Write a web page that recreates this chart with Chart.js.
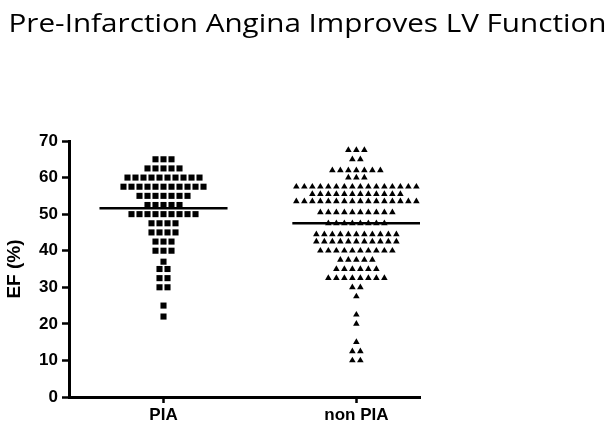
<!DOCTYPE html>
<html>
<head>
<meta charset="utf-8">
<script src="https://cdn.jsdelivr.net/npm/chart.js@4.4.1/dist/chart.umd.min.js"></script>
<style>
    html, body { margin: 0; padding: 0; background: #fff; }
    #wrap { width: 615px; height: 427px; }
</style>
</head>
<body>
<div id="wrap"><canvas id="myChart" width="615" height="427"></canvas></div>
<script>
// groups on the x axis
const groups = ['PIA', 'non PIA'];

// EF rows: row value and number of dots on that row
const piaValues = [65, 62.5, 60, 57.5, 55, 52.5, 50, 47.5, 45, 42.5, 40, 37, 35, 32.5, 30, 25, 22];
const piaCounts = [3, 5, 10, 11, 7, 5, 9, 4, 4, 3, 3, 1, 2, 2, 2, 1, 1];

const nonPiaValues = [67.5, 65, 62, 60, 57.5, 55.5, 53.5, 50.5, 47.5, 44.5, 42.5, 40, 37.5, 35, 32.5, 30, 27.5, 22.5, 20, 15, 12.5, 10];
const nonPiaCounts = [3, 2, 7, 3, 16, 12, 16, 10, 8, 11, 11, 10, 5, 6, 8, 2, 1, 1, 1, 1, 2, 2];

// horizontal lines (group means)
const groupMeans = [51.6, 47.5];

const yTicks = [0, 10, 20, 30, 40, 50, 60, 70];

const titleText = 'Pre-Infarction Angina Improves LV Function';

const dotStep = 0.0415;   // spacing between dots in one row, x units
const meanHalf = 0.332;   // half width of the mean line, x units

// lay the dots of each row side by side, centred on the group
function spread(center, values, counts) {
    let pts = [];
    values.forEach((v, i) => {
        let n = counts[i];
        for (let k = 0; k < n; k++) {
            pts.push({ x: center + (k - (n - 1) / 2) * dotStep, y: v });
        }
    });
    return pts;
}

// slide title, stretched to the width it has on the slide
const slideTitle = {
    id: 'slideTitle',
    afterDraw(chart) {
        const c = chart.ctx;
        c.save();
        c.font = '26px "Open Sans"';
        const w = c.measureText(titleText).width;
        c.translate(chart.width / 2, 32);
        c.scale(598 / w, 1);
        c.textAlign = 'center';
        c.textBaseline = 'alphabetic';
        c.fillStyle = '#000';
        c.fillText(titleText, 0, 0);
        c.restore();
    }
};

const labelFont = { family: 'Liberation Sans', weight: 'bold', size: 17 };

const meanSets = groupMeans.map((m, i) => ({
    type: 'line',
    data: [{ x: i + 1 - meanHalf, y: m }, { x: i + 1 + meanHalf, y: m }],
    borderColor: '#000',
    borderWidth: 2.5,
    pointRadius: 0,
    fill: false
}));

const ctx = document.getElementById('myChart');
new Chart(ctx, {
    type: 'scatter',
    data: {
        datasets: [
            {
                label: groups[0],
                data: spread(1, piaValues, piaCounts),
                pointStyle: 'rect',
                pointRadius: 4.3,
                backgroundColor: '#000',
                borderColor: '#000',
                borderWidth: 0
            },
            {
                label: groups[1],
                data: spread(2, nonPiaValues, nonPiaCounts),
                pointStyle: 'triangle',
                pointRadius: 3.8,
                backgroundColor: '#000',
                borderColor: '#000',
                borderWidth: 0
            },
            ...meanSets
        ]
    },
    plugins: [slideTitle],
    options: {
        responsive: false,
        animation: false,
        devicePixelRatio: 1,
        layout: { padding: { left: 0, right: 195, top: 141, bottom: 0 } },
        plugins: {
            legend: { display: false },
            tooltip: { enabled: false },
            title: { display: false }
        },
        scales: {
            x: {
                type: 'linear',
                min: 0.51,
                max: 2.33,
                afterBuildTicks: (axis) => { axis.ticks = [{ value: 1 }, { value: 2 }]; },
                afterFit: (axis) => { axis.height = 30; },
                ticks: {
                    color: '#000',
                    font: labelFont,
                    padding: 2,
                    maxRotation: 0,
                    callback: (v, i) => groups[i]
                },
                grid: { display: true, drawOnChartArea: false, drawTicks: true, tickLength: 6, tickWidth: 2.5, tickColor: '#000' },
                border: { display: true, width: 3, color: '#000' }
            },
            y: {
                min: 0,
                max: 70,
                afterBuildTicks: (axis) => { axis.ticks = yTicks.map(v => ({ value: v })); },
                afterFit: (axis) => { axis.width = 69; },
                ticks: { color: '#000', font: labelFont, padding: 4 },
                grid: { display: true, drawOnChartArea: false, drawTicks: true, tickLength: 7, tickWidth: 2.5, tickColor: '#000' },
                border: { display: true, width: 3, color: '#000' },
                title: {
                    display: true,
                    text: 'EF (%)',
                    color: '#000',
                    font: { family: 'Liberation Sans', weight: 'bold', size: 19 },
                    padding: { top: 3, bottom: 0 }
                }
            }
        }
    }
});
</script>
</body>
</html>
